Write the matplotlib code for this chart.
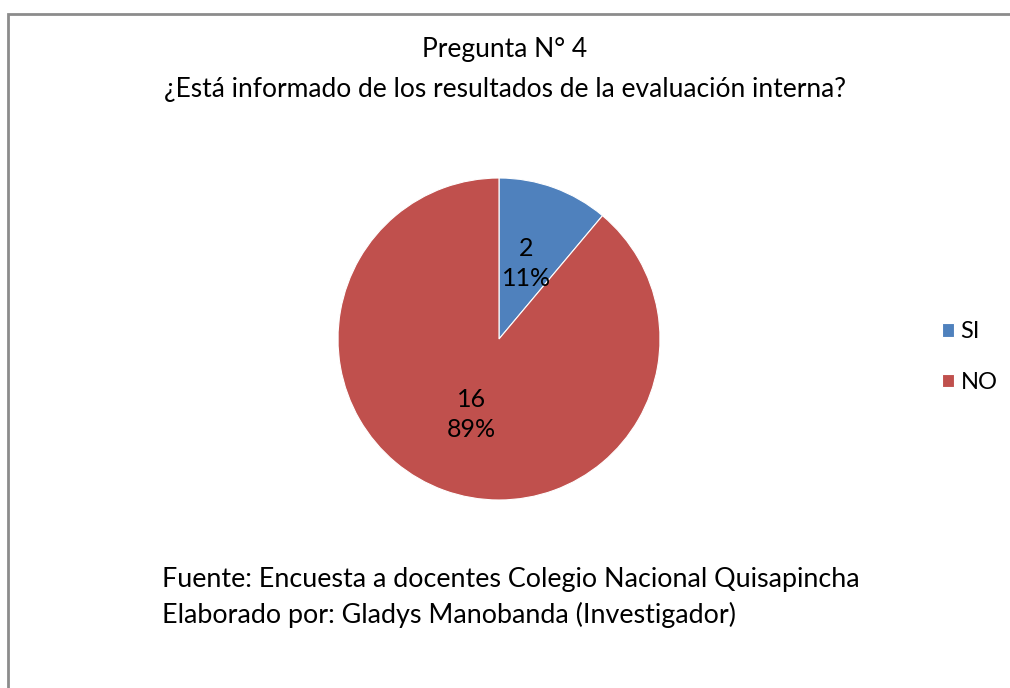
import matplotlib
matplotlib.use("Agg")
import matplotlib.pyplot as plt
from matplotlib.patches import Rectangle

categories = ["SI", "NO"]
values = [2, 16]
colors = ["#4F81BD", "#C0504D"]
title_lines = ["Pregunta N° 4", "¿Está informado de los resultados de la evaluación interna?"]
source_lines = ["Fuente: Encuesta a docentes Colegio Nacional Quisapincha",
                "Elaborado por: Gladys Manobanda (Investigador)"]

plt.rcParams['font.family'] = ['Lato', 'DejaVu Sans']

W, H = 1010, 688
fig = plt.figure(figsize=(W / 100, H / 100), dpi=100)

# outer border
fig.patches.append(Rectangle((8 / W, -0.1), 1.2, 1 - 14 / H + 0.1, transform=fig.transFigure,
                             fill=False, edgecolor="#8c8c8c", linewidth=2))

cx, cy, r = 499, 339, 161
ax = fig.add_axes([(cx - r) / W, 1 - (cy + r) / H, 2 * r / W, 2 * r / H])
total = sum(values)

def fmt(p):
    v = int(round(p * total / 100))
    return f"{v}\n{p:.0f}%"

wedges, texts, autotexts = ax.pie(values, colors=colors, startangle=90, counterclock=False,
                                  autopct=fmt, pctdistance=0.5, radius=1,
                                  wedgeprops=dict(edgecolor="white", linewidth=0.8),
                                  textprops=dict(fontsize=18, color="black", linespacing=1.38))
ax.set_xlim(-1, 1)
ax.set_ylim(-1, 1)
ax.set_aspect("equal")
ax.axis("off")

fig.text(505 / W, 1 - 50 / H, title_lines[0], ha="center", va="center", fontsize=19)
fig.text(505 / W, 1 - 90 / H, title_lines[1], ha="center", va="center", fontsize=19)

fig.text(162 / W, 1 - 580 / H, source_lines[0], ha="left", va="center", fontsize=19.4)
fig.text(162 / W, 1 - 615 / H, source_lines[1], ha="left", va="center", fontsize=19.4)

leg = fig.legend(wedges, categories, loc="center left", bbox_to_anchor=(930 / W, 1 - 357 / H),
                 frameon=False, fontsize=17, handlelength=0.5, handleheight=0.5,
                 handletextpad=0.3, labelspacing=1.25, borderpad=0)

fig.savefig("out.png", dpi=100)
